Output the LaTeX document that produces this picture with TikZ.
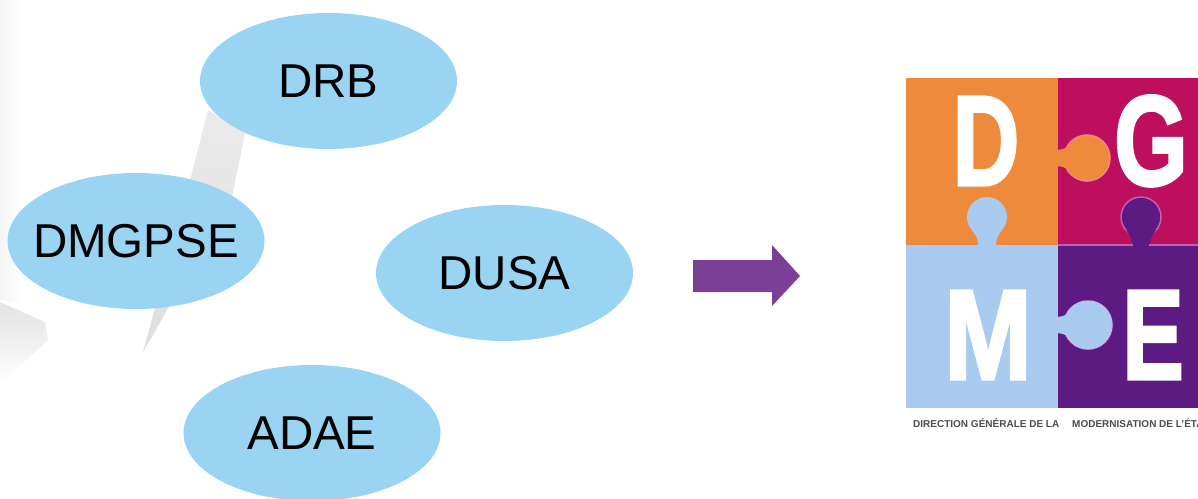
\documentclass[tikz,border=0pt]{standalone}
\usepackage{fontspec}
\setmainfont{Liberation Sans}
\newfontfamily\logofont[FakeBold=2.5]{Liberation Sans Bold}
\usetikzlibrary{shapes.geometric}
\definecolor{bub}{HTML}{99D4F3}
\definecolor{arr}{HTML}{7B3F98}
\definecolor{lorange}{HTML}{EE8A3C}
\definecolor{lmag}{HTML}{BE0F5F}
\definecolor{lblue}{HTML}{A9CBEF}
\definecolor{lpurp}{HTML}{5C1A82}
\definecolor{ledgeP}{HTML}{C060B0}
\definecolor{ledgeO}{HTML}{F08A80}
\definecolor{ledgeB}{HTML}{C4B8EC}
\tikzset{
  bubble/.style={ellipse,fill=bub,minimum width=257pt,minimum height=136pt,inner sep=0pt,
    font=\fontsize{47.5}{50}\selectfont,text=black},
  logoletter/.style={font=\fontsize{128}{130}\selectfont\logofont,text=white,inner sep=0pt,anchor=base},
  tinytext/.style={font=\fontsize{10}{11}\selectfont\bfseries,text=black!70,inner sep=0pt,anchor=base west}
}
\newcommand{\bubtext}[1]{\makebox[0pt][c]{#1}}
\begin{document}
\begin{tikzpicture}[x=1pt,y=-1pt]
\useasboundingbox (0,0) rectangle (1198,498);
% faint background shapes
\shade[left color=black!4,right color=white] (0,0) rectangle (22,300);
\shade[top color=black!8,bottom color=black!13] (208,110) -- (245,133) -- (232,197) -- (143,352) -- (192,173) -- cycle;
\shade[top color=black!11,bottom color=white] (0,302) -- (45,322) -- (48,340) -- (0,385) -- cycle;
% bubbles
\node[bubble] (drb) at (328.5,81) {\raisebox{-1pt}{\bubtext{DRB}}};
\node[bubble] (dmgpse) at (136,241) {\raisebox{-1pt}{\bubtext{DMGPSE}}};
\node[bubble] (dusa) at (504.5,273) {\raisebox{-1pt}{\bubtext{DUSA}}};
\node[bubble] (adae) at (312,433) {\raisebox{-1pt}{\bubtext{ADAE}}};
% arrow
\fill[arr] (693,260) -- (772,260) -- (772,245) -- (800,276) -- (772,306) -- (772,292) -- (693,292) -- cycle;
% logo
\begin{scope}
\clip (880,60) rectangle (1198,440);
\fill[lorange] (906,78) rectangle (1058,245);
\fill[lmag] (1058,78) rectangle (1198,245);
\fill[lblue] (906,245) rectangle (1058,408);
\fill[lpurp] (1058,245) rectangle (1198,408);
% orange tab into magenta
\draw[ledgeO,line width=1.5pt,fill=lorange] (1087,158) circle (23);
\fill[lorange] (1050,150) .. controls (1060,150) and (1066,150) .. (1072,143)
  -- (1072,173) .. controls (1066,166) and (1060,166) .. (1050,166) -- cycle;
% blue tab into orange
\fill[lblue] (987,217) circle (20);
\fill[lblue] (978,250) .. controls (978,240) and (978,238) .. (972,230)
  -- (1002,230) .. controls (996,238) and (996,240) .. (996,250) -- cycle;
% purple tab into magenta
\draw[ledgeP,line width=1.5pt,fill=lpurp] (1141,217) circle (20);
\fill[lpurp] (1132,250) .. controls (1132,240) and (1132,238) .. (1126,230)
  -- (1156,230) .. controls (1150,238) and (1150,240) .. (1150,250) -- cycle;
\draw[ledgeP,line width=1.2pt] (1058,245) -- (1198,245);
\fill[lpurp] (1133,243) rectangle (1149,248);
% blue tab into purple
\draw[ledgeB,line width=1.5pt,fill=lblue] (1088,325) circle (24);
\fill[lblue] (1050,317) .. controls (1060,317) and (1066,317) .. (1072,310)
  -- (1072,340) .. controls (1066,333) and (1060,333) .. (1050,333) -- cycle;
% letters
\node[logoletter,xscale=.72] (ld) at (986,185) {D};
\node[logoletter,xscale=.74] (lg) at (1151,185) {G};
\node[logoletter,xscale=.82] (lm) at (988,379) {M};
\node[logoletter,xscale=.72] (le) at (1153,379) {E};
\node[tinytext] (cap1) at (913,427) {DIRECTION GÉNÉRALE DE LA};
\node[tinytext] (cap2) at (1072,427) {MODERNISATION DE L'ÉTAT};
\end{scope}
\end{tikzpicture}
\end{document}
